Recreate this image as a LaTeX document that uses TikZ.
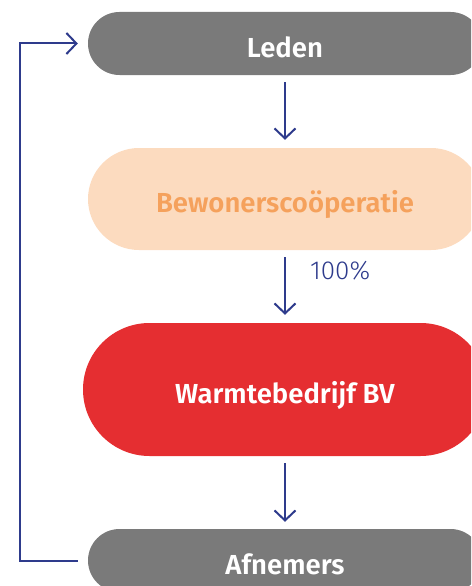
\documentclass[tikz,border=0pt]{standalone}
\usepackage{fontspec}
\setmainfont{Fira Sans}
\newfontfamily\labelfont{Fira Sans SemiBold}
\newfontfamily\thinfont{Fira Sans Light}
\usetikzlibrary{shapes.misc,arrows.meta}

\definecolor{pillgray}{HTML}{7A7A7A}
\definecolor{peach}{HTML}{FCDBBF}
\definecolor{peachtext}{HTML}{F5A15C}
\definecolor{warmred}{HTML}{E52E31}
\definecolor{linkblue}{HTML}{2E3B8C}

\tikzset{
  pill/.style={rounded rectangle, inner sep=0pt, minimum width=394pt,
    font=\labelfont\fontsize{27.5}{32}\selectfont, text=white,
    text height=27pt, text depth=0pt},
  link/.style={draw=linkblue, line width=2pt,
    -{Straight Barb[length=10pt, width=21pt, line width=2pt]}},
}

\begin{document}
\begin{tikzpicture}[x=1pt, y=-1pt]
  \useasboundingbox (0,0) rectangle (471,586);
  \clip (0,0) rectangle (471,586);

  % stacked entities
  \node[pill, fill=pillgray, minimum height=63pt] (leden) at (285,43.5) {Leden};
  \node[pill, fill=peach, text=peachtext, minimum height=102pt] (coop) at (285,199) {Bewonerscoöperatie};
  \node[pill, fill=warmred, minimum width=404pt, minimum height=133pt] (bv) at (285,389.5) {Warmtebedrijf BV};
  \node[pill, fill=pillgray, minimum height=63pt] (afn) at (285,560.5) {Afnemers};

  % downward links
  \draw[link, shorten <=7pt, shorten >=8pt] (leden.south) -- (coop.north);
  \draw[link, shorten <=7pt, shorten >=8pt] (coop.south) -- (bv.north);
  \draw[link, shorten <=7pt, shorten >=7pt] (bv.south) -- (afn.north);

  \node[text=linkblue, font=\thinfont\fontsize{26}{30}\selectfont, anchor=west, inner sep=0pt] (pct) at (310,271) {100\%};

  % feedback loop from customers back to members
  \coordinate (fbbottom) at (20,560.5);
  \coordinate (fbtop) at (20,43.5);
  \draw[link, shorten <=10pt, shorten >=10pt] (afn.west) -- (fbbottom) -- (fbtop) -- (leden.west);
\end{tikzpicture}
\end{document}
